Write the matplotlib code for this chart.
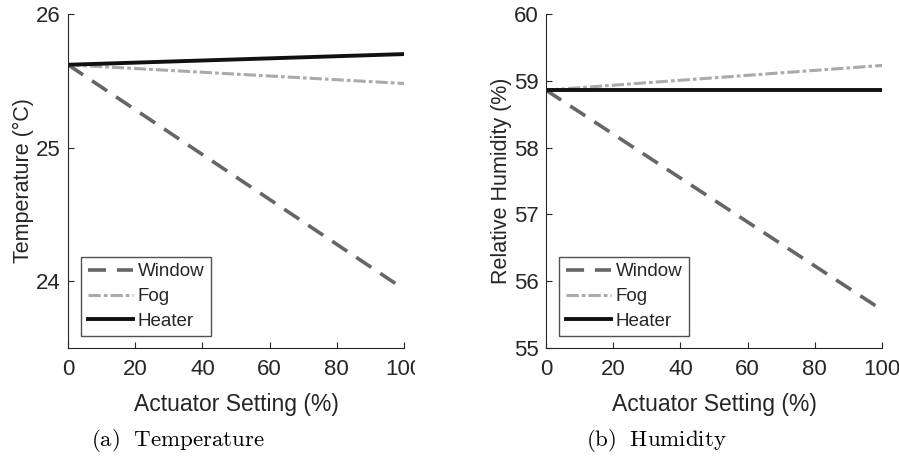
import matplotlib
matplotlib.use("Agg")
import matplotlib.pyplot as plt
from matplotlib.patches import Rectangle

plt.rcParams['font.family'] = ['Liberation Sans', 'DejaVu Sans']
plt.rcParams['mathtext.fontset'] = 'cm'

# actuator setting sweep, endpoints only (responses are linear)
setting = [0, 100]

temp_window = [25.62, 23.94]
temp_fog = [25.62, 25.48]
temp_heater = [25.62, 25.70]

hum_window = [58.86, 55.57]
hum_fog = [58.86, 59.23]
hum_heater = [58.86, 58.86]

labels = ['Window', 'Fog', 'Heater']
xticks = [0, 20, 40, 60, 80, 100]

W, H = 899, 457
fig = plt.figure(figsize=(W / 100, H / 100), dpi=100)

txt = '#262626'


def make_axes(left_px, ys, ylim, yticks, ylabel, caption):
    ax = fig.add_axes([left_px / W, (H - 348) / H, 336 / W, 334 / H])
    ax.plot(setting, ys[0], color='#666666', lw=2.6, dashes=(5, 3), label=labels[0])
    ax.plot(setting, ys[1], color='#aaaaaa', lw=2.2, dashes=(4, 1, 1.2, 1), label=labels[1])
    ax.plot(setting, ys[2], color='#111111', lw=2.8, label=labels[2])
    ax.set_xlim(0, 100)
    ax.set_ylim(*ylim)
    ax.set_xticks(xticks)
    ax.set_yticks(yticks)
    for s in ['top', 'right']:
        ax.spines[s].set_visible(False)
    for s in ['left', 'bottom']:
        ax.spines[s].set_color(txt)
        ax.spines[s].set_linewidth(0.8)
    ax.tick_params(direction='in', length=4, width=0.8, colors=txt, labelsize=16)
    ax.tick_params(axis='x', pad=8)
    ax.tick_params(axis='y', pad=5)
    ax.set_xlabel('Actuator Setting (%)', fontsize=16.5, color=txt)
    ax.set_ylabel(ylabel, fontsize=15.5, color=txt)
    ax.xaxis.set_label_coords(0.5, -0.135)
    ax.yaxis.set_label_coords(-0.102, 0.5)
    leg = ax.legend(loc='lower left', bbox_to_anchor=(0.04, 0.035), fontsize=13.5,
                    frameon=True, fancybox=False, handlelength=2.4, handletextpad=0.25,
                    borderpad=0.35, labelspacing=0.4, borderaxespad=0)
    leg.get_frame().set_edgecolor(txt)
    leg.get_frame().set_linewidth(1.0)
    for t in leg.get_texts():
        t.set_color(txt)
    # caption sits under the whole panel, including the y label
    ax.text(0.5 - 58 / 336, -0.238, caption, transform=ax.transAxes, ha='center',
            va='top', fontsize=16.5, color='black')
    return ax


make_axes(68, [temp_window, temp_fog, temp_heater], (23.5, 26), [24, 25, 26],
          'Temperature (°C)', r'$\mathrm{(a)\ \ Temperature}$')
make_axes(546, [hum_window, hum_fog, hum_heater], (55, 60), [55, 56, 57, 58, 59, 60],
          'Relative Humidity (%)', r'$\mathrm{(b)\ \ Humidity}$')

# the left panel was cropped just past its last tick label
fig.patches.append(Rectangle((415 / W, (H - 385) / H), 30 / W, 30 / H,
                             transform=fig.transFigure, facecolor='white',
                             edgecolor='none', zorder=10))

fig.savefig('out.png', dpi=100, facecolor='white')
